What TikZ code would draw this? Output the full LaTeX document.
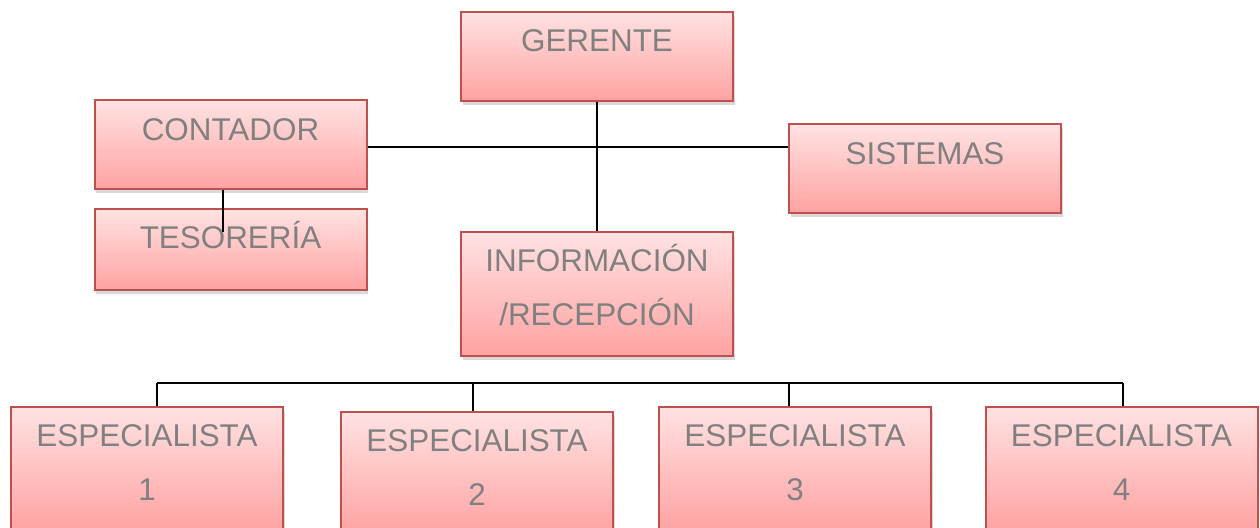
\documentclass[tikz,border=0pt]{standalone}
\usepackage{fontspec}
\setmainfont{Liberation Sans}
\usetikzlibrary{shadows}
\definecolor{box_top}{RGB}{255,226,226}
\definecolor{box_bottom}{RGB}{255,162,162}
\definecolor{box_edge}{RGB}{192,80,77}
\definecolor{text_gray}{RGB}{128,128,128}

\begin{document}
\begin{tikzpicture}[x=0.5pt,y=-0.5pt]
    \tikzstyle{box}=[draw=box_edge, line width=1pt, rectangle, minimum width=136pt, minimum height=44.5pt, top color=box_top, bottom color=box_bottom, drop shadow={shadow xshift=0.8pt,shadow yshift=-2pt,opacity=0.3}]
    \tikzstyle{tall}=[style=box, minimum height=62pt]
    \tikzstyle{lbl}=[text=text_gray, font=\fontsize{15.7}{27}\selectfont, align=center, anchor=base, inner sep=0pt, yshift=-20.5pt]
    \tikzstyle{lbltwo}=[style=lbl, yshift=-27pt]
    \tikzstyle{wire}=[draw=black, line width=1pt]

    \clip (0,0) rectangle (1260,528);

    \node[box]  (ger)  at (597,56.5)  {};
    \node[box]  (cont) at (230.5,145) {};
    \node[box, minimum height=40.5pt] (teso) at (230.5,249.5) {};
    \node[box]  (sis)  at (925,169)   {};
    \node[tall] (info) at (597,294)   {};
    \node[tall] (esp1) at (147,469)   {};
    \node[tall] (esp2) at (477,474)   {};
    \node[tall] (esp3) at (795,469)   {};
    \node[tall] (esp4) at (1121.5,469) {};

    \node[lbl] (tger)  at (ger.north)  {GERENTE};
    \node[lbl] (tcont) at (cont.north) {CONTADOR};
    \node[lbl] (tteso) at (teso.north) {TESORERÍA};
    \node[lbl] (tsis)  at (sis.north)  {SISTEMAS};
    \node[lbltwo] (tinfo) at (info.north) {INFORMACIÓN\\/RECEPCIÓN};
    \node[lbltwo] (tesp1) at (esp1.north) {ESPECIALISTA\\1};
    \node[lbltwo] (tesp2) at (esp2.north) {ESPECIALISTA\\2};
    \node[lbltwo] (tesp3) at (esp3.north) {ESPECIALISTA\\3};
    \node[lbltwo] (tesp4) at (esp4.north) {ESPECIALISTA\\4};

    \coordinate (hub) at (596,147);
    \coordinate (tesoend) at (223,232);
    \coordinate (busL) at (157,383);
    \coordinate (busR) at (1123,383);

    \path[wire]
     (ger.south) -- (info.north)
     (cont.south -| tesoend) -- (tesoend)
     (busL) -- (busR)
     ;
    \draw[line width=0.8pt] (cont.east |- hub) -- (sis.west |- hub);
    \foreach \bx/\n in {157/esp1,473/esp2,789/esp3,1123/esp4}
      \draw[wire] (\bx,383) -- (\bx,383 |- \n.north);
\end{tikzpicture}
\end{document}
